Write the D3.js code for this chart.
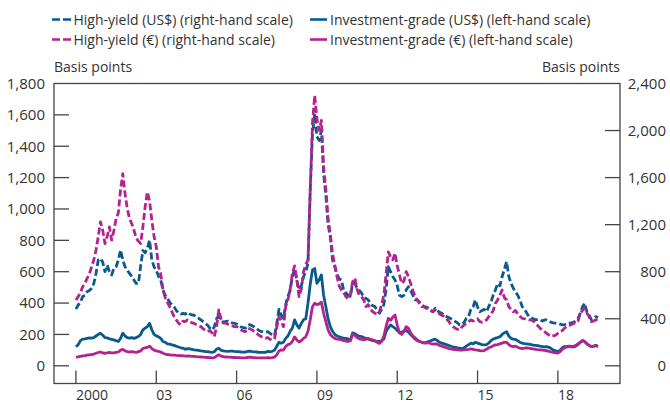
<!DOCTYPE html>
<html>
<head>
<meta charset="utf-8">
<script src="https://cdn.jsdelivr.net/npm/d3@7"></script>
<style>
body { margin: 0; background: #fff; }
text { font-family: "Open Sans", sans-serif; fill: #333; }
</style>
</head>
<body>
<div id="chart"></div>
<script>

// monthly observations, Jan 2000 - Jul 2019 (basis points)
var startYear = 2000;

// High-yield US$ (right-hand scale)
var hyUsd = [
    481, 517, 540, 588, 600, 630, 640, 659, 700, 786, 899, 913,
    880, 800, 856, 800, 772, 830, 842, 900, 984, 900, 842, 814,
    786, 760, 729, 700, 700, 850, 980, 960, 1000, 1068, 900, 842,
    814, 760, 729, 644, 600, 574, 540, 518, 500, 470, 447, 440,
    445, 440, 455, 440, 432, 430, 410, 404, 390, 375, 362, 345,
    320, 305, 330, 400, 420, 390, 370, 376, 380, 370, 365, 362,
    355, 345, 330, 325, 320, 345, 350, 340, 330, 315, 300, 291,
    290, 285, 290, 275, 262, 255, 360, 480, 430, 400, 520, 590,
    640, 760, 820, 729, 644, 680, 757, 800, 871, 1492, 1973, 2143,
    1950, 1916, 2000, 1634, 1450, 1200, 1096, 900, 842, 780, 740, 729,
    640, 620, 600, 590, 701, 700, 660, 640, 620, 580, 574, 560,
    530, 510, 503, 470, 447, 480, 520, 650, 842, 800, 760, 729,
    680, 600, 588, 600, 644, 672, 640, 600, 560, 560, 540, 520,
    503, 500, 490, 470, 460, 489, 470, 455, 445, 432, 420, 410,
    400, 390, 376, 365, 348, 350, 370, 404, 420, 480, 500, 560,
    500, 460, 470, 480, 460, 503, 540, 600, 644, 700, 680, 757,
    820, 885, 760, 701, 660, 630, 600, 560, 503, 480, 450, 418,
    410, 400, 390, 395, 390, 380, 390, 390, 380, 370, 365, 362,
    360, 355, 348, 350, 355, 362, 365, 370, 380, 400, 447, 500,
    532, 460, 432, 390, 400, 418, 410
];

// High-yield euro (right-hand scale)
var hyEur = [
    560, 588, 620, 672, 700, 744, 780, 842, 900, 984, 1100, 1224,
    1153, 1040, 1100, 1181, 1069, 1150, 1252, 1300, 1500, 1634, 1464, 1337,
    1250, 1209, 1153, 1083, 1060, 1040, 1181, 1350, 1478, 1400, 1238, 1100,
    1012, 842, 780, 644, 580, 540, 503, 460, 418, 390, 362, 350,
    380, 376, 390, 376, 365, 360, 350, 340, 333, 315, 300, 291,
    300, 280, 249, 330, 475, 400, 362, 362, 355, 345, 340, 333,
    333, 320, 305, 295, 291, 320, 315, 305, 290, 275, 260, 249,
    245, 235, 240, 225, 220, 230, 330, 418, 380, 333, 503, 560,
    650, 786, 850, 729, 588, 650, 800, 860, 900, 1492, 2058, 2298,
    2100, 2001, 2086, 1690, 1500, 1250, 1120, 950, 860, 760, 680, 644,
    620, 588, 570, 600, 715, 746, 650, 600, 588, 560, 503, 520,
    480, 460, 447, 440, 460, 520, 600, 780, 969, 927, 900, 958,
    850, 772, 701, 720, 800, 760, 701, 640, 588, 560, 530, 503,
    500, 490, 480, 470, 460, 475, 460, 440, 430, 418, 400, 380,
    350, 333, 320, 311, 305, 330, 348, 360, 375, 390, 380, 390,
    400, 376, 370, 376, 390, 418, 440, 470, 532, 560, 600, 644,
    580, 560, 503, 480, 460, 470, 440, 420, 404, 400, 395, 390,
    390, 380, 360, 340, 320, 305, 290, 275, 260, 249, 255, 260,
    277, 290, 300, 320, 333, 340, 350, 362, 360, 380, 447, 470,
    489, 450, 418, 376, 380, 390, 400
];

// Investment-grade US$ (left-hand scale)
var igUsd = [
    121, 135, 160, 170, 172, 175, 178, 176, 180, 190, 200, 208,
    195, 180, 178, 172, 168, 165, 160, 155, 175, 208, 190, 180,
    176, 180, 175, 180, 187, 200, 229, 240, 250, 271, 230, 200,
    191, 185, 175, 155, 150, 140, 138, 134, 130, 125, 120, 115,
    112, 105, 110, 108, 105, 102, 100, 98, 95, 93, 91, 90,
    88, 85, 90, 105, 112, 100, 95, 93, 92, 93, 94, 92,
    91, 90, 88, 87, 88, 92, 93, 90, 89, 88, 86, 85,
    85, 86, 92, 90, 92, 100, 125, 150, 144, 150, 175, 190,
    220, 240, 293, 261, 240, 270, 293, 300, 399, 520, 611, 620,
    526, 547, 580, 450, 377, 300, 250, 220, 200, 190, 185, 180,
    175, 175, 170, 165, 210, 205, 195, 190, 186, 180, 175, 170,
    165, 160, 158, 155, 155, 160, 170, 220, 241, 261, 250, 240,
    225, 210, 215, 220, 225, 215, 200, 185, 170, 160, 155, 150,
    148, 150, 155, 160, 165, 170, 160, 150, 145, 140, 135, 130,
    125, 120, 118, 115, 112, 110, 115, 125, 135, 144, 140, 150,
    145, 140, 135, 133, 135, 145, 160, 170, 176, 180, 185, 200,
    210, 218, 190, 175, 170, 168, 160, 150, 145, 142, 140, 138,
    135, 132, 130, 128, 125, 123, 120, 122, 118, 110, 100, 95,
    91, 100, 115, 123, 120, 125, 123, 120, 125, 135, 150, 161,
    155, 140, 130, 123, 125, 130, 125
];

// Investment-grade euro (left-hand scale)
var igEur = [
    55, 57, 60, 63, 65, 68, 70, 72, 75, 80, 85, 88,
    82, 80, 82, 85, 83, 82, 85, 88, 100, 105, 95, 90,
    88, 90, 88, 85, 90, 95, 110, 115, 118, 125, 110, 100,
    95, 92, 88, 80, 75, 72, 70, 68, 68, 66, 65, 65,
    64, 62, 63, 62, 60, 60, 58, 57, 56, 55, 54, 53,
    52, 50, 52, 62, 70, 62, 58, 56, 55, 55, 54, 53,
    52, 52, 50, 50, 50, 54, 55, 53, 52, 51, 50, 50,
    50, 50, 52, 50, 52, 55, 70, 95, 102, 100, 123, 135,
    140, 155, 184, 165, 152, 160, 175, 185, 220, 293, 377, 399,
    390, 395, 406, 335, 280, 229, 200, 185, 175, 170, 168, 165,
    160, 158, 155, 160, 200, 195, 180, 172, 168, 165, 170, 175,
    168, 165, 160, 150, 143, 155, 190, 250, 303, 290, 310, 324,
    260, 210, 200, 220, 250, 240, 210, 190, 178, 165, 155, 150,
    145, 145, 148, 142, 138, 140, 138, 130, 125, 120, 115, 110,
    108, 105, 104, 102, 100, 100, 102, 103, 105, 108, 105, 102,
    100, 97, 95, 97, 105, 115, 120, 128, 133, 135, 140, 145,
    150, 150, 135, 125, 123, 125, 118, 112, 110, 112, 115, 112,
    110, 108, 105, 103, 102, 100, 98, 96, 92, 88, 85, 83,
    81, 90, 105, 115, 123, 125, 120, 125, 130, 140, 150, 161,
    155, 140, 130, 123, 125, 128, 122
];

var leftTicks = [0, 200, 400, 600, 800, 1000, 1200, 1400, 1600, 1800];
var rightTicks = [0, 400, 800, 1200, 1600, 2000, 2400];
var xTickYears = [2000, 2003, 2006, 2009, 2012, 2015, 2018];
var xTickLabels = ["2000", "03", "06", "09", "12", "15", "18"];

var legendLabels = [
    "High-yield (US$) (right-hand scale)",
    "Investment-grade (US$) (left-hand scale)",
    "High-yield (€) (right-hand scale)",
    "Investment-grade (€) (left-hand scale)"
];

var blue = "#0a5a8b",
    magenta = "#b3228e",
    axisColor = "#444";

function drawSpreadChart() {

    var width = 670, height = 405;
    var frame = { left: 54, right: 620, top: 83.5, bottom: 383.5 };

    var svg = d3.select("#chart").append("svg")
        .attr("width", width)
        .attr("height", height);

    var x = d3.scaleLinear()
        .domain([1999.18, 2020.32])
        .range([frame.left, frame.right]);

    var yLeft = d3.scaleLinear()
        .domain([0, 1800])
        .range([365.8, frame.top]);

    var yRight = d3.scaleLinear()
        .domain([0, 2400])
        .range([365.8, frame.top]);

    // frame
    svg.append("rect")
        .attr("x", frame.left)
        .attr("y", frame.top)
        .attr("width", frame.right - frame.left)
        .attr("height", frame.bottom - frame.top)
        .attr("fill", "none")
        .attr("stroke", axisColor)
        .attr("stroke-width", 1.3);

    // left axis ticks (inside)
    svg.selectAll(".ltick")
        .data(leftTicks.filter(function (d) { return d < 1800; }))
        .enter().append("line")
        .attr("x1", frame.left).attr("x2", frame.left + 15)
        .attr("y1", function (d) { return yLeft(d); })
        .attr("y2", function (d) { return yLeft(d); })
        .attr("stroke", axisColor).attr("stroke-width", 1.3);

    svg.selectAll(".llabel")
        .data(leftTicks)
        .enter().append("text")
        .attr("x", 45)
        .attr("y", function (d) { return yLeft(d); })
        .attr("dy", "0.36em")
        .style("text-anchor", "end")
        .style("font-size", "15px")
        .text(function (d) { return d3.format(",")(d); });

    // right axis ticks (inside)
    svg.selectAll(".rtick")
        .data(rightTicks.filter(function (d) { return d < 2400; }))
        .enter().append("line")
        .attr("x1", frame.right - 15).attr("x2", frame.right)
        .attr("y1", function (d) { return yRight(d); })
        .attr("y2", function (d) { return yRight(d); })
        .attr("stroke", axisColor).attr("stroke-width", 1.3);

    svg.selectAll(".rlabel")
        .data(rightTicks)
        .enter().append("text")
        .attr("x", 666)
        .attr("y", function (d) { return yRight(d); })
        .attr("dy", "0.36em")
        .style("text-anchor", "end")
        .style("font-size", "15px")
        .text(function (d) { return d3.format(",")(d); });

    // x ticks, pointing up from the bottom of the frame
    svg.selectAll(".xtick")
        .data(xTickYears)
        .enter().append("line")
        .attr("x1", function (d) { return x(d); })
        .attr("x2", function (d) { return x(d); })
        .attr("y1", frame.bottom).attr("y2", frame.bottom - 13)
        .attr("stroke", axisColor).attr("stroke-width", 1.3);

    // baseline kept a little high so the glyph box stays inside the page
    svg.selectAll(".xlabel")
        .data(xTickYears)
        .enter().append("text")
        .attr("x", function (d) { return x(d); })
        .attr("y", 400)
        .style("font-size", "14px")
        .text(function (d, i) { return xTickLabels[i]; });

    // unit labels
    svg.append("text")
        .attr("x", frame.left).attr("y", 72)
        .style("font-size", "14px")
        .text("Basis points");
    svg.append("text")
        .attr("x", frame.right).attr("y", 72)
        .style("text-anchor", "end")
        .style("font-size", "14px")
        .text("Basis points");

    // series
    function toPoints(values) {
        return values.map(function (v, i) {
            return { t: startYear + i / 12, v: v };
        });
    }

    var lineLeft = d3.line()
        .x(function (d) { return x(d.t); })
        .y(function (d) { return yLeft(d.v); });

    var lineRight = d3.line()
        .x(function (d) { return x(d.t); })
        .y(function (d) { return yRight(d.v); });

    var series = [
        { values: hyUsd, line: lineRight, color: blue, dash: "7,3" },
        { values: igUsd, line: lineLeft, color: blue, dash: null },
        { values: hyEur, line: lineRight, color: magenta, dash: "7,3" },
        { values: igEur, line: lineLeft, color: magenta, dash: null }
    ];

    series.forEach(function (s) {
        svg.append("path")
            .datum(toPoints(s.values))
            .attr("d", s.line)
            .attr("fill", "none")
            .attr("stroke", s.color)
            .attr("stroke-width", 2.8)
            .attr("stroke-linejoin", "round")
            .attr("stroke-dasharray", s.dash);
    });

    // legend
    var legend = [
        { label: legendLabels[0], color: blue, dashed: true, x: 52, y: 19.5 },
        { label: legendLabels[1], color: blue, dashed: false, x: 310, y: 19.5 },
        { label: legendLabels[2], color: magenta, dashed: true, x: 52, y: 39.5 },
        { label: legendLabels[3], color: magenta, dashed: false, x: 310, y: 39.5 }
    ];

    var items = svg.selectAll(".legend")
        .data(legend)
        .enter().append("g")
        .attr("transform", function (d) { return "translate(" + d.x + "," + d.y + ")"; });

    items.append("line")
        .attr("x1", 0).attr("x2", function (d) { return d.dashed ? 19 : 17; })
        .attr("y1", 0).attr("y2", 0)
        .attr("stroke", function (d) { return d.color; })
        .attr("stroke-width", 2.6)
        .attr("stroke-dasharray", function (d) { return d.dashed ? "8,3" : null; });

    items.append("text")
        .attr("x", function (d) { return d.dashed ? 21.5 : 20; })
        .attr("dy", "0.36em")
        .style("font-size", "14px")
        .text(function (d) { return d.label; });
}

drawSpreadChart();

</script>
</body>
</html>
